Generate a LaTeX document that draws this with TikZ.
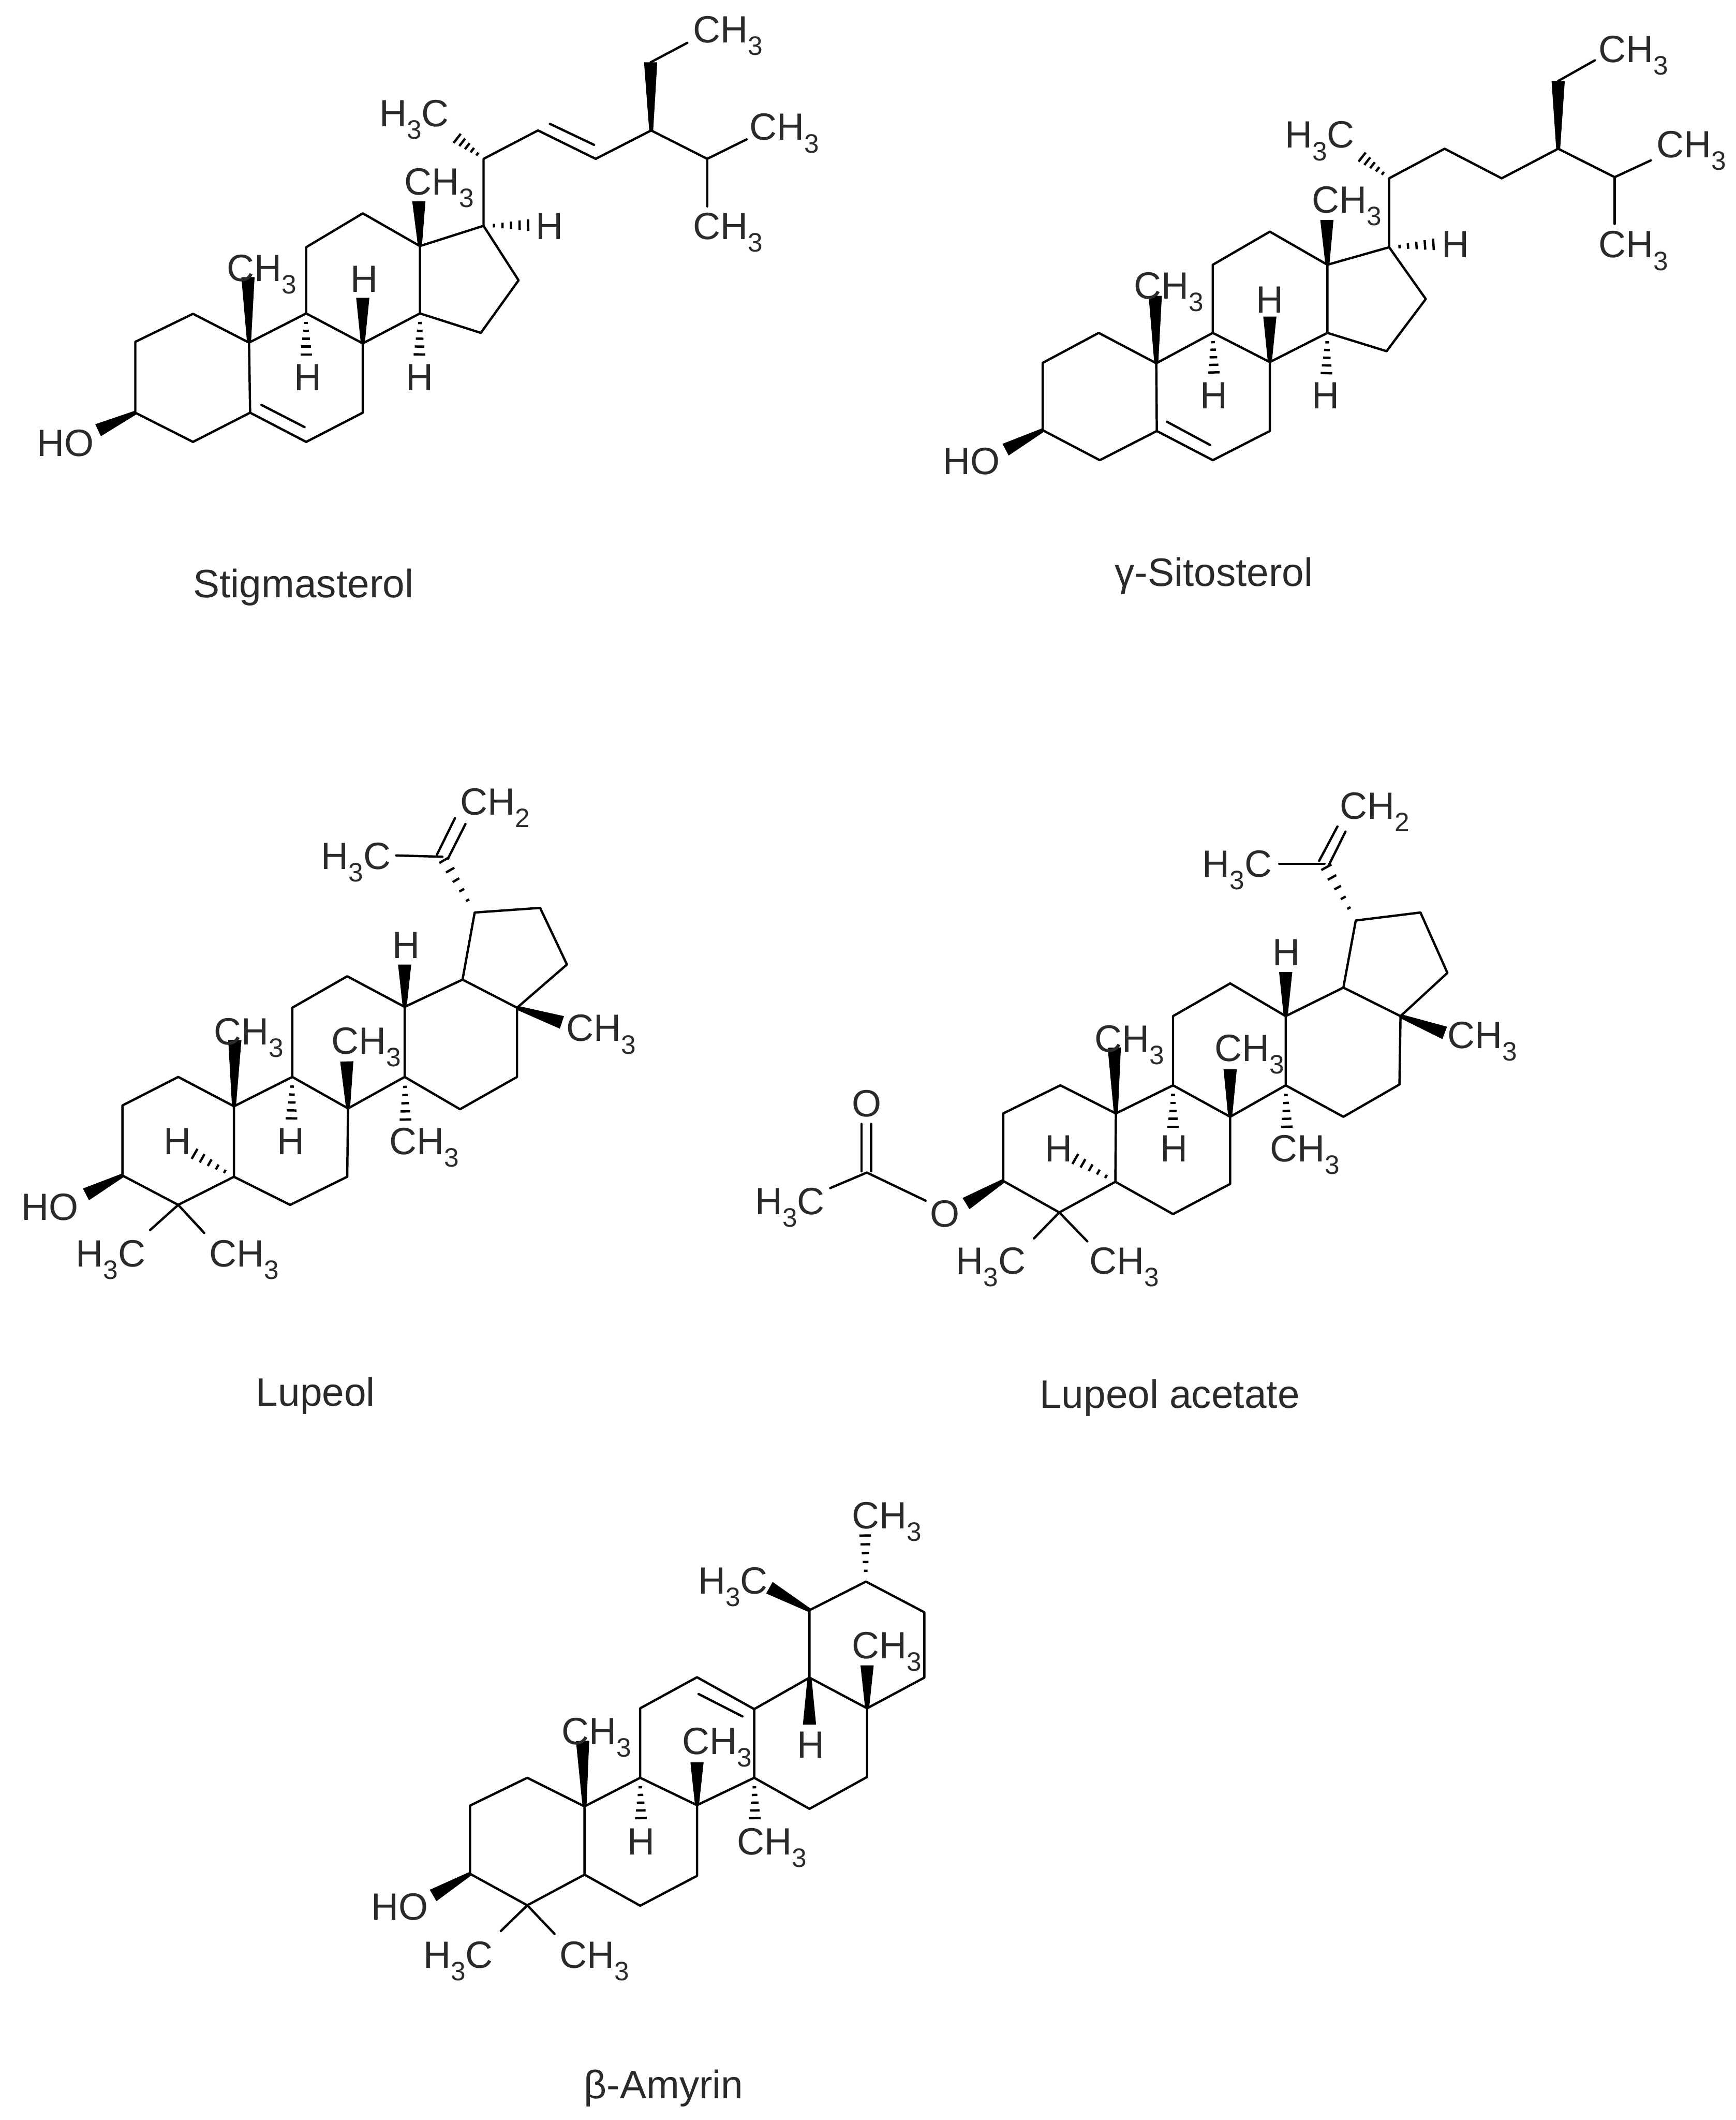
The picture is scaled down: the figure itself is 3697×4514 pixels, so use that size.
\documentclass[tikz,border=0pt]{standalone}
\usepackage{fontspec}
\setmainfont{Liberation Sans}
\usetikzlibrary{calc}
\definecolor{txtgray}{HTML}{2A2A2A}
\tikzset{
	bond/.style={line width=1.4pt,line cap=round,line join=round},
	hash/.style={line width=1.4pt,line cap=butt},
	lbl/.style={anchor=base west,inner sep=0pt,text=txtgray,font=\fontsize{23}{27}\selectfont},
	capt/.style={lbl,font=\fontsize{24}{28}\selectfont},
}
\newcommand{\lowsub}[1]{\raisebox{-.33em}{\scalebox{.7}{#1}}}
\newcommand{\wedgebond}[2]{\fill ($(#1)!1.2pt!90:(#2)$) -- ($(#2)!4pt!-90:(#1)$) -- ($(#2)!4pt!90:(#1)$) -- ($(#1)!1.2pt!-90:(#2)$) -- cycle;}
\newcommand{\hashbond}[2]{\foreach \t/\w in {.22/1.1pt,.4/1.7pt,.58/2.3pt,.76/2.9pt,.94/3.5pt}{
	\draw[hash] ($(#1)!\t!(#2)!\w!90:(#1)$) -- ($(#1)!\t!(#2)!\w!-90:(#1)$);}}
\begin{document}
\begin{tikzpicture}[x=0.01cm,y=-0.01cm]
	\useasboundingbox (0,0) rectangle (3697,4514);
	% stigmasterol
	\begin{scope}[x=0.01148cm,y=-0.00829cm]
		\foreach \n/\x/\y in {a1/251/878,a2/358/806,a3/462/880,a4/464/1060,a5/358/1135,a6/251/1060,
			b1/568/805,b2/673/882,b3/673/1060,b4/568/1135,c1/568/635,c2/673/548,c3/779/632,c4/779/805,
			d1/897/580,d2/962/720,d3/892/855,e1/897/408,e2/998/335,e3/1105/408,e4/1208/335,e5/1312/408,e6/1207/160,
			i1/485/1040,i2/565/1097,i3/1020/318,i4/1102/372,m1/1385/358,m2/1312/530,m3/1275/110,
			w1/460/712,w2/777/517,w3/673/765,w4/182/1105,h1/568/917,h2/778/917,h3/985/578,h4/845/352}
			\coordinate (s\n) at (\x,\y);
		\draw[bond] (sa1)--(sa2)--(sa3)--(sa4)--(sa5)--(sa6)--cycle;
		\draw[bond] (sa3)--(sb1)--(sb2)--(sb3)--(sb4)--(sa4);
		\draw[bond] (sb1)--(sc1)--(sc2)--(sc3)--(sc4)--(sb2);
		\draw[bond] (sc3)--(sd1)--(sd2)--(sd3)--(sc4);
		\draw[bond] (sd1)--(se1)--(se2)--(se3)--(se4)--(se5)--(sm1);
		\draw[bond] (se5)--(sm2);
		\draw[bond] (se6)--(sm3);
		\draw[bond] (si1)--(si2);
		\draw[bond] (si3)--(si4);
		\wedgebond{sa3}{sw1}
		\wedgebond{sc3}{sw2}
		\wedgebond{sb2}{sw3}
		\wedgebond{sa6}{sw4}
		\wedgebond{se4}{se6}
		\hashbond{sb1}{sh1}
		\hashbond{sc4}{sh2}
		\hashbond{sd1}{sh3}
		\hashbond{se1}{sh4}
		\node[lbl] (st1) at (1285,110) {CH\lowsub{3}};
		\node[lbl] (st2) at (703,325) {H\lowsub{3}C};
		\node[lbl] (st3) at (1390,360) {CH\lowsub{3}};
		\node[lbl] (st4) at (1285,615) {CH\lowsub{3}};
		\node[lbl] (st5) at (750,500) {CH\lowsub{3}};
		\node[lbl] (st6) at (993,615) {H};
		\node[lbl] (st7) at (420,722) {CH\lowsub{3}};
		\node[lbl] (st8) at (650,750) {H};
		\node[lbl] (st9) at (545,1003) {H};
		\node[lbl] (st10) at (752,1003) {H};
		\node[lbl] (st11) at (68,1172) {HO};
		\node[capt] (stname) at (358,1535) {Stigmasterol};
	\end{scope}
	% gamma-sitosterol
	\begin{scope}[shift={(1950,0)},x=0.01114cm,y=-0.00829cm]
		\foreach \n/\x/\y in {a1/243/932,a2/350/855,a3/460/933,a4/461/1107,a5/352/1182,a6/243/1105,
			b1/568/855,b2/677/930,b3/677/1107,b4/568/1182,c1/568/680,c2/677/595,c3/787/680,c4/787/855,
			d1/905/635,d2/975/768,d3/900/902,e1/905/458,e2/1011/382,e3/1120/458,e4/1228/382,e5/1336/455,e6/1228/208,
			i1/480/1083,i2/563/1143,m1/1405/412,m2/1336/575,m3/1298/155,
			w1/458/760,w2/786/565,w3/677/813,w4/172/1155,h1/570/963,h2/785/965,h3/995/627,h4/850/400}
			\coordinate (g\n) at (\x,\y);
		\draw[bond] (ga1)--(ga2)--(ga3)--(ga4)--(ga5)--(ga6)--cycle;
		\draw[bond] (ga3)--(gb1)--(gb2)--(gb3)--(gb4)--(ga4);
		\draw[bond] (gb1)--(gc1)--(gc2)--(gc3)--(gc4)--(gb2);
		\draw[bond] (gc3)--(gd1)--(gd2)--(gd3)--(gc4);
		\draw[bond] (gd1)--(ge1)--(ge2)--(ge3)--(ge4)--(ge5)--(gm1);
		\draw[bond] (ge5)--(gm2);
		\draw[bond] (ge6)--(gm3);
		\draw[bond] (gi1)--(gi2);
		\wedgebond{ga3}{gw1}
		\wedgebond{gc3}{gw2}
		\wedgebond{gb2}{gw3}
		\wedgebond{ga6}{gw4}
		\wedgebond{ge4}{ge6}
		\hashbond{gb1}{gh1}
		\hashbond{gc4}{gh2}
		\hashbond{gd1}{gh3}
		\hashbond{ge1}{gh4}
		\node[lbl] (gt1) at (1305,160) {CH\lowsub{3}};
		\node[lbl] (gt2) at (705,380) {H\lowsub{3}C};
		\node[lbl] (gt3) at (1415,405) {CH\lowsub{3}};
		\node[lbl] (gt4) at (1305,662) {CH\lowsub{3}};
		\node[lbl] (gt5) at (757,547) {CH\lowsub{3}};
		\node[lbl] (gt6) at (1005,662) {H};
		\node[lbl] (gt7) at (417,768) {CH\lowsub{3}};
		\node[lbl] (gt8) at (650,803) {H};
		\node[lbl] (gt9) at (543,1050) {H};
		\node[lbl] (gt10) at (757,1050) {H};
		\node[lbl] (gt11) at (52,1218) {HO};
		\node[capt] (gtname) at (380,1505) {γ-Sitosterol};
	\end{scope}
	% lupeol
	\begin{scope}[shift={(0,1650)},x=0.00893cm,y=-0.00893cm]
		\foreach \n/\x/\y in {a1/292/788,a2/425/720,a3/558/790,a4/558/958,a5/425/1025,a6/292/955,
			b1/697/720,b2/830/795,b3/828/958,b4/692/1025,c1/697/555,c2/828/480,c3/965/553,c4/965/720,
			d1/1103/488,d2/1233/555,d3/1233/720,d4/1097/797,e1/1132/328,e2/1288/317,e3/1352/452,
			f1/1055/195,m1/945/192,i1/1042/190,i2/1085/103,i3/1068/200,i4/1110/117,m2/358/1085,m3/487/1092,
			w1/560/632,w2/827/683,w3/965/452,w4/1340/590,w5/205/1000,h1/695/825,h2/967/828,h3/458/900}
			\coordinate (l\n) at (\x,\y);
		\draw[bond] (la1)--(la2)--(la3)--(la4)--(la5)--(la6)--cycle;
		\draw[bond] (la3)--(lb1)--(lb2)--(lb3)--(lb4)--(la4);
		\draw[bond] (lb1)--(lc1)--(lc2)--(lc3)--(lc4)--(lb2);
		\draw[bond] (lc3)--(ld1)--(ld2)--(ld3)--(ld4)--(lc4);
		\draw[bond] (ld1)--(le1)--(le2)--(le3)--(ld2);
		\draw[bond] (lf1)--(lm1);
		\draw[bond] (li1)--(li2);
		\draw[bond] (li3)--(li4);
		\draw[bond] (lm2)--(la5)--(lm3);
		\wedgebond{la3}{lw1}
		\wedgebond{lb2}{lw2}
		\wedgebond{lc3}{lw3}
		\wedgebond{ld2}{lw4}
		\wedgebond{la6}{lw5}
		\hashbond{lb1}{lh1}
		\hashbond{lc4}{lh2}
		\hashbond{la4}{lh3}
		\hashbond{le1}{lf1}
		\node[lbl] (lt1) at (1097,95) {CH\lowsub{2}};
		\node[lbl] (lt2) at (765,225) {H\lowsub{3}C};
		\node[lbl] (lt3) at (935,437) {H};
		\node[lbl] (lt4) at (1350,635) {CH\lowsub{3}};
		\node[lbl] (lt5) at (510,643) {CH\lowsub{3}};
		\node[lbl] (lt6) at (790,665) {CH\lowsub{3}};
		\node[lbl] (lt7) at (390,905) {H};
		\node[lbl] (lt8) at (660,905) {H};
		\node[lbl] (lt9) at (928,905) {CH\lowsub{3}};
		\node[lbl] (lt10) at (50,1062) {HO};
		\node[lbl] (lt11) at (180,1172) {H\lowsub{3}C};
		\node[lbl] (lt12) at (498,1172) {CH\lowsub{3}};
		\node[capt] (ltname) at (610,1505) {Lupeol};
	\end{scope}
	% lupeol acetate
	\begin{scope}[shift={(1550,1650)},x=0.01148cm,y=-0.00893cm]
		\foreach \n/\x/\y in {a1/511/807,a2/617/740,a3/720/807,a4/719/970,a5/615/1043,a6/511/968,
			b1/826/740,b2/932/815,b3/932/975,b4/826/1047,c1/826/575,c2/932/497,c3/1035/575,c4/1035/740,
			d1/1142/507,d2/1248/575,d3/1246/738,d4/1142/815,e1/1165/347,e2/1285/328,e3/1335/472,
			f1/1107/212,m1/1023/212,i1/1097/205,i2/1131/123,i3/1115/215,i4/1146/135,m2/568/1105,m3/667/1112,
			w1/717/650,w2/932/702,w3/1035/470,w4/1330/615,w5/442/1022,h1/826/845,h2/1037/845,h3/640/912,
			k1/258/948,k2/190/985,k3/367/1015,k4/248/945,k5/248/832,k6/266/945,k7/266/832}
			\coordinate (t\n) at (\x,\y);
		\draw[bond] (ta1)--(ta2)--(ta3)--(ta4)--(ta5)--(ta6)--cycle;
		\draw[bond] (ta3)--(tb1)--(tb2)--(tb3)--(tb4)--(ta4);
		\draw[bond] (tb1)--(tc1)--(tc2)--(tc3)--(tc4)--(tb2);
		\draw[bond] (tc3)--(td1)--(td2)--(td3)--(td4)--(tc4);
		\draw[bond] (td1)--(te1)--(te2)--(te3)--(td2);
		\draw[bond] (tf1)--(tm1);
		\draw[bond] (ti1)--(ti2);
		\draw[bond] (ti3)--(ti4);
		\draw[bond] (tm2)--(ta5)--(tm3);
		\draw[bond] (tk2)--(tk1)--(tk3);
		\draw[bond] (tk4)--(tk5);
		\draw[bond] (tk6)--(tk7);
		\wedgebond{ta3}{tw1}
		\wedgebond{tb2}{tw2}
		\wedgebond{tc3}{tw3}
		\wedgebond{td2}{tw4}
		\wedgebond{ta6}{tw5}
		\hashbond{tb1}{th1}
		\hashbond{tc4}{th2}
		\hashbond{ta4}{th3}
		\hashbond{te1}{tf1}
		\node[lbl] (tt1) at (1135,105) {CH\lowsub{2}};
		\node[lbl] (tt2) at (880,243) {H\lowsub{3}C};
		\node[lbl] (tt3) at (1010,455) {H};
		\node[lbl] (tt4) at (1335,652) {CH\lowsub{3}};
		\node[lbl] (tt5) at (680,660) {CH\lowsub{3}};
		\node[lbl] (tt6) at (903,683) {CH\lowsub{3}};
		\node[lbl] (tt7) at (588,922) {H};
		\node[lbl] (tt8) at (802,922) {H};
		\node[lbl] (tt9) at (1005,922) {CH\lowsub{3}};
		\node[lbl] (tt10) at (230,815) {O};
		\node[lbl] (tt11) at (50,1048) {H\lowsub{3}C};
		\node[lbl] (tt12) at (375,1077) {O};
		\node[lbl] (tt13) at (423,1190) {H\lowsub{3}C};
		\node[lbl] (tt14) at (670,1190) {CH\lowsub{3}};
		\node[capt] (ttname) at (578,1510) {Lupeol acetate};
	\end{scope}
	% beta-amyrin
	\begin{scope}[shift={(750,3150)},x=0.00829cm,y=-0.0087cm]
		\foreach \n/\x/\y in {a1/303/798,a2/450/730,a3/597/800,a4/597/967,a5/450/1042,a6/303/965,
			b1/740/730,b2/886/797,b3/886/970,b4/740/1043,c1/740/560,c2/886/484,c3/1033/562,c4/1033/730,
			d1/1175/485,d2/1323/560,d3/1323/728,d4/1175/806,e1/1175/320,e2/1320/250,e3/1470/325,e4/1470/485,
			i1/890/525,i2/1003/580,m1/382/1105,m2/520/1112,
			w1/592/640,w2/886/692,w3/1175/600,w4/1323/455,w5/1072/265,w6/208/1018,h1/742/835,h2/1035/835,h3/1318/130}
			\coordinate (m\n) at (\x,\y);
		\draw[bond] (ma1)--(ma2)--(ma3)--(ma4)--(ma5)--(ma6)--cycle;
		\draw[bond] (ma3)--(mb1)--(mb2)--(mb3)--(mb4)--(ma4);
		\draw[bond] (mb1)--(mc1)--(mc2)--(mc3)--(mc4)--(mb2);
		\draw[bond] (mc3)--(md1)--(md2)--(md3)--(md4)--(mc4);
		\draw[bond] (md1)--(me1)--(me2)--(me3)--(me4)--(md2);
		\draw[bond] (mi1)--(mi2);
		\draw[bond] (mm1)--(ma5)--(mm2);
		\wedgebond{ma3}{mw1}
		\wedgebond{mb2}{mw2}
		\wedgebond{md1}{mw3}
		\wedgebond{md2}{mw4}
		\wedgebond{me1}{mw5}
		\wedgebond{ma6}{mw6}
		\hashbond{mb1}{mh1}
		\hashbond{mc4}{mh2}
		\hashbond{me2}{mh3}
		\node[lbl] (mt1) at (1283,120) {CH\lowsub{3}};
		\node[lbl] (mt2) at (888,280) {H\lowsub{3}C};
		\node[lbl] (mt3) at (1283,438) {CH\lowsub{3}};
		\node[lbl] (mt4) at (538,648) {CH\lowsub{3}};
		\node[lbl] (mt5) at (847,672) {CH\lowsub{3}};
		\node[lbl] (mt6) at (1142,682) {H};
		\node[lbl] (mt7) at (706,918) {H};
		\node[lbl] (mt8) at (988,918) {CH\lowsub{3}};
		\node[lbl] (mt9) at (48,1078) {HO};
		\node[lbl] (mt10) at (182,1195) {H\lowsub{3}C};
		\node[lbl] (mt11) at (532,1195) {CH\lowsub{3}};
		\node[capt] (mtname) at (595,1515) {β-Amyrin};
	\end{scope}
\end{tikzpicture}
\end{document}
